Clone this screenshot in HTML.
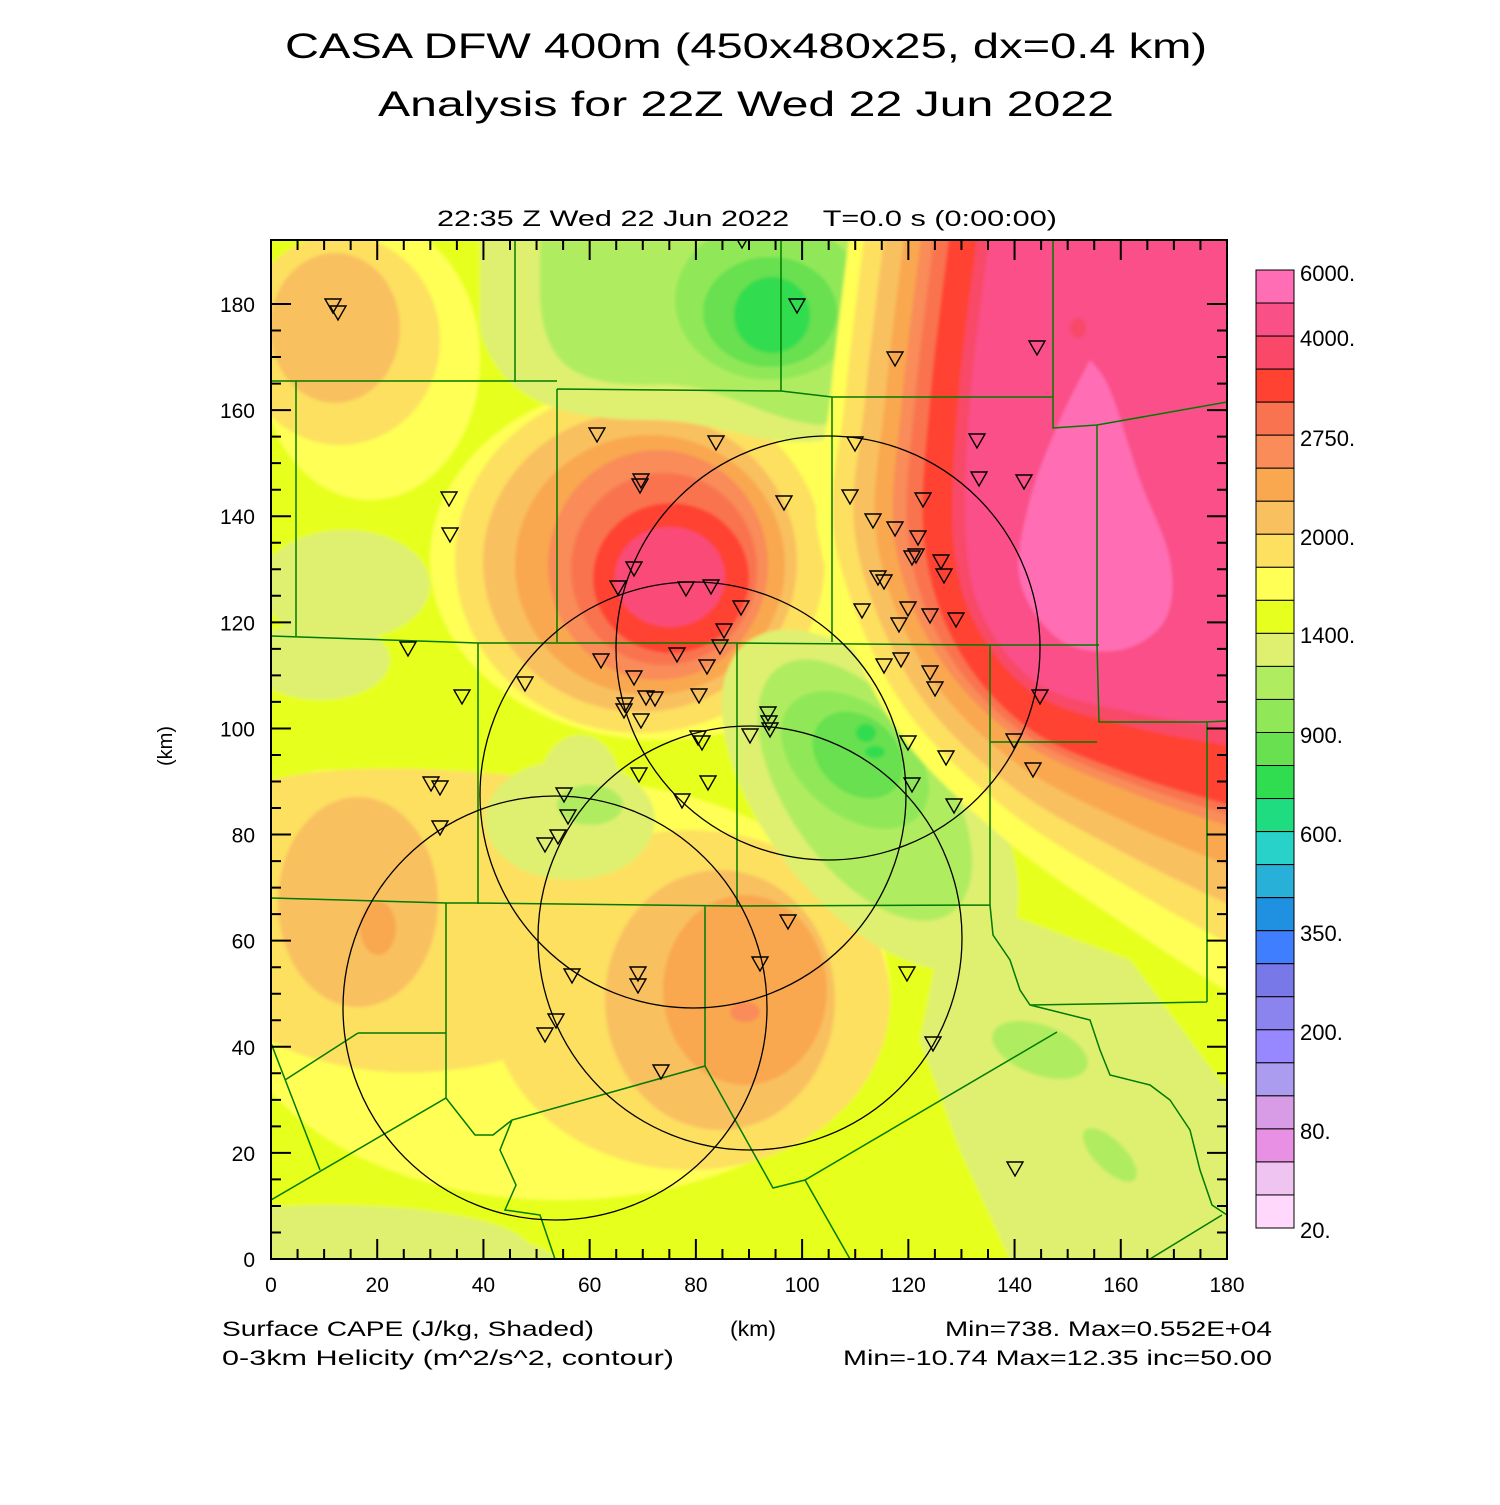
<!DOCTYPE html>
<html><head><meta charset="utf-8"><style>
html,body{margin:0;padding:0;background:#fff;}
svg text{font-family:"Liberation Sans",sans-serif;fill:#000;}
</style></head><body>
<svg id="s" width="1500" height="1500" viewBox="0 0 1500 1500" xmlns="http://www.w3.org/2000/svg">
<defs>
<clipPath id="pc"><rect x="271" y="240" width="956" height="1019"/></clipPath>
<filter id="bl" x="-5%" y="-5%" width="110%" height="110%"><feGaussianBlur stdDeviation="1.5"/></filter>
</defs>
<text x="746" y="58" font-size="35" text-anchor="middle" textLength="922" lengthAdjust="spacingAndGlyphs">CASA DFW 400m (450x480x25, dx=0.4 km)</text>
<text x="746" y="116" font-size="35" text-anchor="middle" textLength="736" lengthAdjust="spacingAndGlyphs">Analysis for 22Z Wed 22 Jun 2022</text>
<text x="747" y="226" font-size="22" text-anchor="middle" textLength="620" lengthAdjust="spacingAndGlyphs" xml:space="preserve">22:35 Z Wed 22 Jun 2022    T=0.0 s (0:00:00)</text>

<g clip-path="url(#pc)">
<g id="field" filter="url(#bl)">
<rect x="260" y="230" width="980" height="1040" fill="#e6ff1f"/>
<ellipse cx="330" cy="1250" rx="200" ry="45" fill="#dff070"/>
<ellipse cx="440" cy="1270" rx="120" ry="40" fill="#dff070"/>
<ellipse cx="345" cy="585" rx="85" ry="55" fill="#dff070"/>
<ellipse cx="320" cy="660" rx="70" ry="40" fill="#dff070"/>
<ellipse cx="370" cy="360" rx="110" ry="140" fill="#ffff55"/>
<ellipse cx="340" cy="340" rx="100" ry="105" fill="#fde060"/>
<ellipse cx="335" cy="328" rx="65" ry="75" fill="#f9c060"/>
<ellipse cx="560" cy="990" rx="330" ry="210" fill="#ffff55"/>
<ellipse cx="330" cy="820" rx="70" ry="50" fill="#ffff55"/>
<path d="M271 780 C350 760 470 770 560 780 L620 900 C600 1000 560 1060 450 1070 C380 1080 300 1060 271 1040 Z" fill="#fde060"/>
<ellipse cx="690" cy="1000" rx="200" ry="170" fill="#fde060"/>
<ellipse cx="358" cy="902" rx="80" ry="105" fill="#f9c060"/>
<ellipse cx="378" cy="928" rx="18" ry="27" fill="#f9a850"/>
<ellipse cx="720" cy="1000" rx="115" ry="130" fill="#f9c060"/>
<ellipse cx="745" cy="990" rx="82" ry="95" fill="#f9a850"/>
<ellipse cx="745" cy="1012" rx="15" ry="10" fill="#f98c58"/>
<ellipse cx="570" cy="820" rx="85" ry="60" fill="#dff070"/>
<ellipse cx="580" cy="785" rx="40" ry="50" fill="#dff070"/>
<ellipse cx="590" cy="805" rx="33" ry="20" fill="#b0ec60"/>
<ellipse cx="660" cy="560" rx="230" ry="180" fill="#ffff55"/>
<ellipse cx="640" cy="560" rx="185" ry="173" fill="#fde060"/>
<ellipse cx="640" cy="562" rx="157" ry="150" fill="#f9c060"/>
<ellipse cx="650" cy="565" rx="135" ry="130" fill="#f9a850"/>
<ellipse cx="658" cy="565" rx="110" ry="115" fill="#f98c58"/>
<ellipse cx="664" cy="569" rx="93" ry="96" fill="#f97350"/>
<ellipse cx="671" cy="578" rx="78" ry="75" fill="#ff4232"/>
<ellipse cx="670" cy="577" rx="55" ry="50" fill="#fa4b78"/>
<path d="M480 240 L900 240 C900 320 880 420 830 440 C760 450 720 420 650 420 C560 420 500 400 480 330 Z" fill="#dff070"/>
<path d="M540 240 L870 240 C880 330 860 420 820 425 C760 420 720 380 650 385 C580 385 545 370 540 300 Z" fill="#b0ec60"/>
<ellipse cx="770" cy="300" rx="95" ry="80" fill="#90e858"/>
<ellipse cx="770" cy="312" rx="67" ry="55" fill="#68e050"/>
<ellipse cx="772" cy="315" rx="38" ry="38" fill="#30dc50"/>
<ellipse cx="870" cy="800" rx="200" ry="105" transform="rotate(52 870 800)" fill="#dff070"/>
<path d="M940 940 L1010 915 L1130 960 L1227 1090 L1227 1259 L1010 1259 L960 1150 L920 1040 Z" fill="#dff070"/>
<ellipse cx="865" cy="790" rx="150" ry="78" transform="rotate(55 865 790)" fill="#b0ec60"/>
<ellipse cx="1040" cy="1050" rx="50" ry="25" transform="rotate(20 1040 1050)" fill="#b0ec60"/>
<ellipse cx="1110" cy="1155" rx="35" ry="15" transform="rotate(45 1110 1155)" fill="#b0ec60"/>
<ellipse cx="855" cy="760" rx="85" ry="55" transform="rotate(40 855 760)" fill="#90e858"/>
<ellipse cx="858" cy="755" rx="50" ry="38" transform="rotate(40 858 755)" fill="#68e050"/>
<ellipse cx="866" cy="733" rx="10" ry="9" fill="#30dc50"/>
<ellipse cx="875" cy="752" rx="10" ry="6" fill="#30dc50"/>
<g id="bands"></g>
</g>
<g fill="none" stroke="#007a00" stroke-width="1.5">
<path d="M515 240 V382 M271 381 L557 381 M557 389 V642 M557 389 L781 391 L832 397 L1053 397 M781 240 V391 M832 397 V642 M1053 240 V428 L1097 425 L1227 402 M1097 425 V645 L1099 722 L1205 722 L1227 721 M296 381 V636 M271 636 L478 643 L737 643 L987 645 L1099 645 M478 643 V904 M737 643 V906 M990 645 V905 M990 742 L1097 742 M271 898 L446 903 L478 903 L737 906 L990 905 M446 903 V1098 M358 1033 L446 1033 M358 1033 L285 1080 M271 1043 L320 1170 M271 1200 L446 1098 L475 1135 L493 1135 L512 1120 L705 1066 M705 906 V1066 L773 1188 L805 1180 L1057 1032 M805 1180 L850 1259 M512 1120 L500 1150 L516 1185 L505 1210 L540 1215 L555 1259 M990 905 L993 935 L1010 960 L1020 990 L1030 1005 L1207 1002 M1207 722 V1002 M1030 1005 L1090 1020 L1100 1050 L1110 1075 L1150 1085 L1170 1100 L1190 1130 L1200 1170 L1212 1205 L1227 1215 M1150 1259 L1222 1215"/>
</g>
<g fill="none" stroke="#000" stroke-width="1.3">
<circle cx="828" cy="648" r="212"/>
<circle cx="693" cy="795" r="213"/>
<circle cx="750" cy="938" r="212"/>
<circle cx="555" cy="1008" r="212"/>
</g>
<g id="tri" fill="none" stroke="#000" stroke-width="1.4"></g>
</g>
<rect x="271" y="240" width="956" height="1019" fill="none" stroke="#000" stroke-width="2"/>
<g id="ticks" stroke="#000" stroke-width="2"></g>
<g id="lab" font-size="21"></g>
<text x="172" y="746" font-size="20" text-anchor="middle" transform="rotate(-90 172 746)">(km)</text>
<g id="cb"></g>
<g font-size="21">
<text x="222" y="1336" textLength="372" lengthAdjust="spacingAndGlyphs">Surface CAPE (J/kg, Shaded)</text>
<text x="730" y="1336" textLength="46" lengthAdjust="spacingAndGlyphs">(km)</text>
<text x="1272" y="1336" text-anchor="end" textLength="327" lengthAdjust="spacingAndGlyphs">Min=738. Max=0.552E+04</text>
<text x="222" y="1365" textLength="452" lengthAdjust="spacingAndGlyphs">0-3km Helicity (m^2/s^2, contour)</text>
<text x="1272" y="1365" text-anchor="end" textLength="429" lengthAdjust="spacingAndGlyphs">Min=-10.74 Max=12.35 inc=50.00</text>
</g>
</svg>
<script>
var NS="http://www.w3.org/2000/svg";
function el(p,t,a,txt){var e=document.createElementNS(NS,t);for(var k in a)e.setAttribute(k,a[k]);if(txt!==undefined)e.textContent=txt;document.getElementById(p).appendChild(e);return e;}
var bands=[["#ffff55",140,270],["#fde060",125,220],["#f9c060",105,180],["#f9a850",85,140],["#f98c58",68,100],["#f97350",55,88],["#ff4232",40,78],["#f94868",12,18],["#fa5088",0,0]];
function cr(pts){var d="M"+pts[0][0]+" "+pts[0][1];for(var i=0;i<pts.length-1;i++){var p0=pts[Math.max(i-1,0)],p1=pts[i],p2=pts[i+1],p3=pts[Math.min(i+2,pts.length-1)];
d+=" C"+(p1[0]+(p2[0]-p0[0])/6)+" "+(p1[1]+(p2[1]-p0[1])/6)+" "+(p2[0]-(p3[0]-p1[0])/6)+" "+(p2[1]-(p3[1]-p1[1])/6)+" "+p2[0]+" "+p2[1];}return d;}
bands.forEach(function(b){var t=b[1],m=b[2];
var pts=[[990-t,230],[970-t,400],[966-t*1.05,540],[985-t*0.7,620+m*0.35],[1040-t*0.3,685+m*0.55],[1130,712+m*0.8],[1240,730+m]];
el("bands","path",{d:cr(pts)+" L1240 230 Z",fill:b[0]});});
el("bands","path",{d:cr([[1090,360],[1060,420],[1030,500],[1020,580],[1060,640],[1120,650],[1165,620],[1170,560],[1140,480],[1110,390],[1090,360]])+"Z",fill:"#ff6eb4"});
el("bands","ellipse",{cx:1078,cy:328,rx:8,ry:10,fill:"#f94868"});
var T=[[333,305],[338,312],[742,240],[797,305],[895,358],[1037,347],[597,434],[716,442],[855,443],[977,440],[449,498],[641,480],[640,485],[784,502],[850,496],[979,478],[1024,481],[923,499],[450,534],[873,520],[895,528],[918,537],[912,557],[916,555],[941,561],[944,575],[634,568],[618,587],[686,588],[711,586],[878,577],[884,581],[741,607],[862,610],[908,608],[930,615],[956,619],[899,624],[408,648],[724,630],[720,646],[601,660],[677,654],[707,666],[884,665],[901,659],[930,672],[935,688],[462,696],[525,683],[634,677],[625,704],[624,710],[646,697],[655,698],[699,695],[1040,696],[641,720],[768,713],[769,722],[770,729],[750,735],[698,737],[702,742],[908,742],[1014,740],[946,757],[431,783],[440,787],[639,774],[708,782],[912,784],[1033,769],[682,800],[564,794],[568,816],[954,805],[440,827],[558,836],[545,844],[788,921],[572,975],[760,963],[907,973],[638,973],[638,985],[556,1020],[545,1034],[933,1043],[661,1071],[1015,1168]];
T.forEach(function(p){var x=p[0],y=p[1];el("tri","polygon",{points:(x-8)+","+(y-6)+" "+(x+8)+","+(y-6)+" "+x+","+(y+8)});});
var tk="";
for(var k=0;k<=180;k+=5){var x=271+k*956/180,y=1259-k*5.3056,L=(k%20==0)?20:10;
tk+="M"+x+" 1259 v"+(-L)+" M"+x+" 240 v"+L;
if(y>=240){tk+=" M271 "+y+" h"+L+" M1227 "+y+" h"+(-L);}
if(k%20==0){el("lab","text",{x:x,y:1292,"text-anchor":"middle"},String(k));
el("lab","text",{x:255,y:y+8,"text-anchor":"end"},String(k));}}
el("ticks","path",{d:tk});
var C=["#ff6eb4","#fa5088","#f94868","#ff4232","#f97350","#f98c58","#f9a850","#f9c060","#fde060","#ffff55","#e6ff1f","#dff070","#b0ec60","#90e858","#68e050","#30dc50","#20dc80","#28d2c8","#28b0d8","#2090e0","#3f7fff","#7878e8","#8c84ee","#9888ff","#ac9cf0","#d89ce6","#e890e4","#f0c4f0","#ffd8fc"];
var h=958/29;
C.forEach(function(c,i){el("cb","rect",{x:1256,y:270+i*h,width:38,height:h,fill:c,stroke:"#000","stroke-width":1});});
var L=[["6000.",270],["4000.",335],["2750.",435],["2000.",534],["1400.",632],["900.",732],["600.",831],["350.",930],["200.",1029],["80.",1128],["20.",1227]];
L.forEach(function(l){el("cb","text",{x:1300,y:l[1]+11,"font-size":"22"},l[0]);});
</script>
</body></html>
